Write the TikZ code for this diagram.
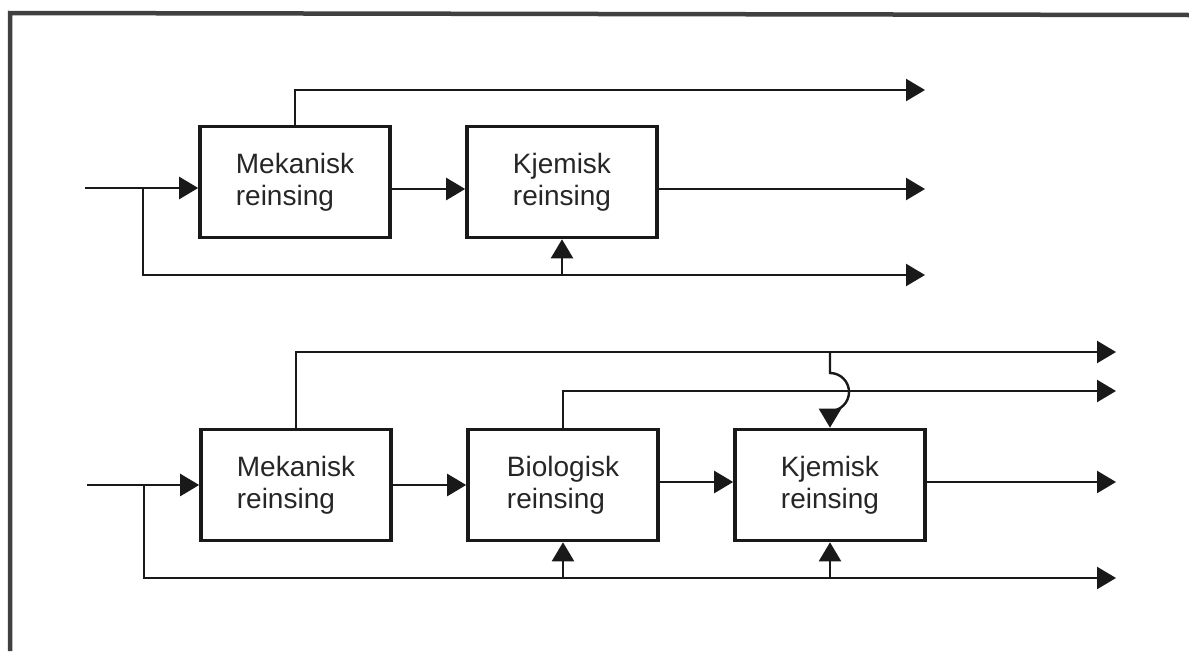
\documentclass[tikz,border=0pt]{standalone}
\usepackage{fontspec}
\setmainfont{Liberation Sans}
\usetikzlibrary{arrows.meta}
\begin{document}
\begin{tikzpicture}[x=1pt,y=-1pt,
  box/.style={draw=black!90,line width=3.6pt,minimum width=190pt,minimum height=111pt,inner sep=0pt,
    align=left,font=\fontsize{28}{32}\selectfont,text=black!85},
  flow/.style={draw=black!90,line width=2.4pt},
  arr/.style={flow,-{Triangle[length=19pt,width=22pt]}},
  frame/.style={draw=black!75,line width=4.5pt}]
\useasboundingbox (0,0) rectangle (1189,651);
\draw[frame] (10,651) -- (10,13) -- (1189,15);
% top diagram
\node[box] (M1) at (295,182) {Mekanisk\\reinsing};
\node[box] (K1) at (562,182) {Kjemisk\\reinsing};
\coordinate (in1) at (85,188);
\coordinate (br1) at (143,275);
\coordinate (oa1) at (925,90);
\coordinate (ob1) at (925,189);
\coordinate (oc1) at (925,275);
\draw[arr] (in1) -- (in1 -| M1.west);
\draw[arr] (br1 |- in1) -- (br1) -- (oc1);
\draw[arr] (K1.south |- br1) -- (K1.south);
\draw[arr] (M1.north) |- (oa1);
\draw[arr] (M1.east |- ob1) -- (K1.west |- ob1);
\draw[arr] (K1.east |- ob1) -- (ob1);
% bottom diagram
\node[box] (M2) at (296,485) {Mekanisk\\reinsing};
\node[box] (B2) at (563,485) {Biologisk\\reinsing};
\node[box] (K2) at (830,485) {Kjemisk\\reinsing};
\coordinate (in2) at (87,485);
\coordinate (br2) at (144,578);
\coordinate (oa2) at (1116,352);
\coordinate (ob2) at (1116,391);
\coordinate (oc2) at (1116,482);
\coordinate (od2) at (1116,578);
\draw[arr] (in2) -- (M2.west);
\draw[arr] (br2 |- in2) -- (br2) -- (od2);
\draw[arr] (B2.south |- br2) -- (B2.south);
\draw[arr] (K2.south |- br2) -- (K2.south);
\draw[arr] (M2.north) |- (oa2);
\draw[arr] (B2.north) |- (ob2);
\draw[arr] (M2.east) -- (B2.west);
\draw[arr] (B2.east |- oc2) -- (K2.west |- oc2);
\draw[arr] (K2.east |- oc2) -- (oc2);
\draw[arr] (K2.north |- oa2) -- ++(0,21) arc[start angle=90,end angle=-90,radius=19pt] -- (K2.north);
\end{tikzpicture}
\end{document}
